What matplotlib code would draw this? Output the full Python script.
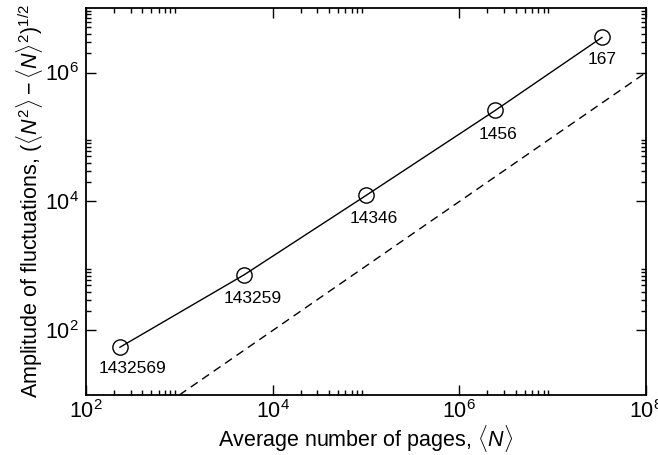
import numpy as np
import matplotlib
matplotlib.use("Agg")
import matplotlib.pyplot as plt
from matplotlib.ticker import FixedLocator, LogFormatterMathtext, NullFormatter

plt.rcParams['font.family'] = ['Liberation Sans', 'DejaVu Sans']
plt.rcParams['mathtext.fontset'] = 'custom'
plt.rcParams['mathtext.rm'] = 'Liberation Sans'
plt.rcParams['mathtext.it'] = 'Liberation Sans:italic'
plt.rcParams['mathtext.bf'] = 'Liberation Sans:bold'

# data
mean_pages = [231, 4930, 1.0e5, 2.42e6, 3.37e7]
amplitude = [55, 728, 12400, 2.58e5, 3.5e6]
point_labels = ["1432569", "143259", "14346", "1456", "167"]
ref_x = [1e3, 1e8]
ref_y = [1e1, 1e6]

fig = plt.figure(figsize=(6.58, 4.55), dpi=100)
ax = fig.add_axes([0.1307, 0.1319, 0.8511, 0.8505])

ax.plot(mean_pages, amplitude, '-', color='black', lw=1.0,
        marker='o', markersize=11, markerfacecolor='none',
        markeredgecolor='black', markeredgewidth=1.0)
ax.plot(ref_x, ref_y, '--', color='black', lw=1.0, dashes=(6, 4))

offsets = [(13, -21), (9, -24), (8, -23), (3, -24), (0, -22)]
for x, y, lab, off in zip(mean_pages, amplitude, point_labels, offsets):
    ax.annotate(lab, (x, y), xytext=off, textcoords='offset pixels',
                ha='center', va='center', fontsize=12.5)

ax.set_xscale('log')
ax.set_yscale('log')
ax.set_xlim(1e2, 1e8)
ax.set_ylim(1e1, 1e7)

ax.xaxis.set_major_locator(FixedLocator([1e2, 1e4, 1e6, 1e8]))
ax.yaxis.set_major_locator(FixedLocator([1e2, 1e4, 1e6]))
xminor = [m * d for d in (1e2, 1e4, 1e6) for m in range(2, 10)]
yminor = [m * d for d in (1e2, 1e4, 1e6) for m in range(2, 10)]
ax.xaxis.set_minor_locator(FixedLocator(xminor))
ax.yaxis.set_minor_locator(FixedLocator(yminor))
ax.xaxis.set_major_formatter(LogFormatterMathtext())
ax.yaxis.set_major_formatter(LogFormatterMathtext())
ax.xaxis.set_minor_formatter(NullFormatter())
ax.yaxis.set_minor_formatter(NullFormatter())

ax.tick_params(which='both', direction='in', top=True, right=True, width=1.0)
ax.tick_params(which='major', length=7, labelsize=15.5)
ax.tick_params(axis='x', which='major', pad=4)
ax.tick_params(axis='y', which='major', pad=5)
ax.tick_params(which='minor', length=3.5)
for s in ax.spines.values():
    s.set_linewidth(1.3)

ax.set_xlabel(r'Average number of pages, $\langle N\rangle$', fontsize=15.5, labelpad=0)
ax.set_ylabel(r'Amplitude of fluctuations, $(\langle N^2\rangle - \langle N\rangle^2)^{1/2}$',
              fontsize=15.5, labelpad=0)

fig.savefig('out.png', dpi=100)
